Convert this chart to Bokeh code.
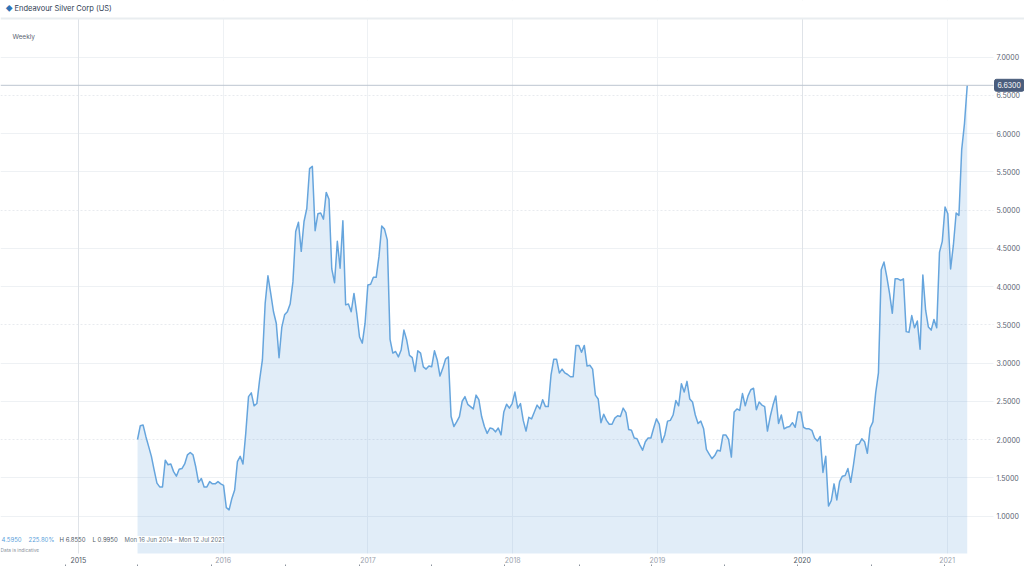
from bokeh.plotting import figure
from bokeh.models import Range1d, FixedTicker, Grid, LinearAxis, Label, BoxAnnotation, Span, NumeralTickFormatter
from bokeh.embed import file_html
from bokeh.resources import INLINE

FONT = "Inter"

title_text = "Endeavour Silver Corp (US)"
start_year = 2015.409
weeks_per_year = 52.18

prices = [
 2.00,2.18,2.19,2.04,1.91,1.78,1.60,1.43,1.38,1.38,1.73,1.67,1.68,1.58,1.52,1.61,1.62,1.68,1.80,1.83,1.80,1.64,1.44,1.49,1.38,1.38,1.45,1.42,1.42,1.45,1.42,1.40,1.11,1.08,1.23,1.34,1.71,1.78,1.68,2.08,2.56,2.61,2.44,2.47,2.78,3.04,3.78,4.14,3.91,3.67,3.52,3.07,
 3.47,3.63,3.67,3.77,4.06,4.72,4.84,4.46,4.85,5.02,5.54,5.57,4.73,4.95,4.96,4.88,5.23,5.14,4.23,4.05,4.59,4.24,4.86,3.76,3.77,3.67,3.91,3.65,3.34,3.26,3.52,4.02,4.03,4.12,4.12,4.39,4.79,4.75,4.61,3.31,3.13,3.15,3.08,3.17,3.43,3.30,3.10,3.07,2.89,3.16,3.13,2.95,2.92,2.96,2.95,3.16,3.04,2.83,
 2.93,3.05,3.08,2.30,2.17,2.23,2.30,2.50,2.56,2.46,2.43,2.40,2.58,2.52,2.30,2.17,2.08,2.15,2.14,2.10,2.15,2.06,2.36,2.46,2.41,2.47,2.62,2.41,2.47,2.25,2.11,2.29,2.27,2.36,2.45,2.40,2.52,2.43,2.43,2.84,3.05,3.05,2.87,2.92,2.87,2.85,2.82,2.82,3.23,3.23,3.14,3.23,2.96,2.97,2.92,2.58,2.53,2.22,2.33,2.25,2.20,2.20,2.28,2.31,2.30,2.41,2.35,2.13,2.12,2.02,2.01,1.93,
 1.86,1.97,2.02,2.02,2.15,2.27,2.20,1.96,2.06,2.24,2.25,2.32,2.51,2.44,2.73,2.62,2.76,2.53,2.49,2.32,2.21,2.24,2.14,1.87,1.81,1.75,1.79,1.86,1.85,2.06,2.06,2.00,1.77,2.36,2.40,2.38,2.60,2.44,2.57,2.65,2.67,2.39,2.49,2.45,2.43,2.11,2.30,2.45,2.57,2.21,2.32,2.14,2.16,2.17,2.22,2.16,2.36,2.36,2.16,2.14,2.14,2.12,2.02,1.98,2.04,1.57,1.78,1.13,1.20,1.42,1.21,1.45,
 1.52,1.53,1.62,1.44,1.67,1.93,1.94,2.01,1.97,1.82,2.15,2.23,2.61,2.87,4.22,4.32,4.13,3.91,3.65,4.10,4.10,4.08,4.10,3.41,3.40,3.62,3.46,3.55,3.18,4.15,3.69,3.47,3.43,3.57,3.46,4.45,4.59,5.04,4.95,4.23,4.54,4.96,4.93,5.79,6.13,6.63,
]
year_ticks = [2015, 2016, 2017, 2018, 2019, 2020, 2021]
strong_years = [2015, 2020]
light_years = [2016, 2017, 2018, 2019, 2021]
nav_ticks = [2014.91, 2015.41, 2015.92, 2016.43, 2016.94, 2017.44, 2017.94, 2018.46, 2018.96, 2019.46, 2019.97, 2020.48, 2020.98]
price_ticks = [1.0, 1.5, 2.0, 2.5, 3.0, 3.5, 4.0, 4.5, 5.0, 5.5, 6.0, 6.5, 7.0]
dotted_ticks = [2.0, 3.5, 5.0, 6.5]
solid_ticks = [t for t in price_ticks if t not in dotted_ticks]
last_price = 6.63
last_price_text = "6.6300"
weeks = list(range(len(prices)))
years = [start_year + w / weeks_per_year for w in weeks]

# scales: px per year, px per price unit; the whole canvas is the frame
W, H = 1024, 566
PX_YEAR = 144.8
PX_UNIT = 76.5
BASE_PX = 515.5
X0 = 2015 - 77.8 / PX_YEAR
X_END = X0 + W / PX_YEAR
Y_TOP = 1 + BASE_PX / PX_UNIT
Y_BOTTOM = 1 - (H - BASE_PX) / PX_UNIT
PLOT_RIGHT = X0 + 993 / PX_YEAR      # right edge of plotting area
PLOT_TOP = 1 + (BASE_PX - 18) / PX_UNIT
PLOT_BASE = 1 - (553 - BASE_PX) / PX_UNIT

p = figure(width=W, height=H, output_backend="svg", toolbar_location=None,
           x_range=Range1d(X0, X_END), y_range=Range1d(Y_BOTTOM, Y_TOP),
           x_axis_location=None, y_axis_location=None,
           min_border_left=0, min_border_right=0, min_border_top=0, min_border_bottom=0,
           outline_line_color=None, background_fill_color="white", border_fill_color="white")
p.styles = {"position": "absolute", "left": "0px", "top": "0px"}
p.grid.visible = False

for ticks, color, dash in [(solid_ticks, "#eef1f4", "solid"), (dotted_ticks, "#e8ebef", "2 2")]:
    p.add_layout(Grid(dimension=1, ticker=FixedTicker(ticks=ticks), grid_line_color=color,
                      grid_line_dash=dash, grid_line_width=1, level="underlay"))
p.add_layout(Grid(dimension=0, ticker=FixedTicker(ticks=light_years), grid_line_color="#eef1f4",
                  grid_line_width=1, level="underlay"))
p.add_layout(Grid(dimension=0, ticker=FixedTicker(ticks=strong_years), grid_line_color="#dfe3e8",
                  grid_line_width=1, level="underlay"))
# masks: grid lines stop at the plotting area
for kw in [dict(left=PLOT_RIGHT), dict(top=PLOT_BASE), dict(bottom=PLOT_TOP)]:
    p.add_layout(BoxAnnotation(fill_color="white", fill_alpha=1, line_color=None, level="underlay", **kw))

p.varea(x=years, y1=[PLOT_BASE] * len(years), y2=prices, fill_color="#4d94d6", fill_alpha=0.17)
p.line(x=years, y=prices, line_color="#66a5dd", line_width=1.5, line_join="round")

p.line(x=[X0, PLOT_RIGHT], y=[last_price, last_price], line_color="#bcc5d0", line_width=1)
p.add_layout(Span(location=PLOT_TOP, dimension="width", line_color="#e9edf0", line_width=2))

yaxis = LinearAxis(ticker=FixedTicker(ticks=price_ticks), fixed_location=PLOT_RIGHT, axis_line_color=None,
                   major_tick_line_color=None, minor_tick_line_color=None,
                   major_tick_out=0, major_tick_in=0, minor_tick_out=0, minor_tick_in=0,
                   major_label_text_font=FONT, major_label_text_font_size="7px",
                   major_label_text_color="#5a6472", major_label_standoff=3,
                   formatter=NumeralTickFormatter(format="0.0000"))
p.add_layout(yaxis, "right")

xaxis = LinearAxis(ticker=FixedTicker(ticks=year_ticks), fixed_location=PLOT_BASE, axis_line_color=None,
                   major_tick_line_color=None, minor_tick_line_color=None,
                   major_tick_out=0, major_tick_in=0, minor_tick_out=0, minor_tick_in=0,
                   major_label_text_font=FONT, major_label_text_font_size="7px",
                   major_label_text_color="#9aa2ad", major_label_standoff=2,
                   major_label_overrides={2015: " ", 2020: " "},
                   formatter=NumeralTickFormatter(format="0"))
p.add_layout(xaxis, "below")

nav_axis = LinearAxis(ticker=FixedTicker(ticks=nav_ticks), fixed_location=Y_BOTTOM, axis_line_color=None,
                      major_tick_line_color="#8a929c", minor_tick_line_color=None,
                      major_tick_out=0, major_tick_in=2, minor_tick_out=0, minor_tick_in=0,
                      major_label_text_color=None, major_label_text_font_size="1px")
p.add_layout(nav_axis, "below")


def label(text, x, y_px, color, size="6px", **kw):
    p.add_layout(Label(x=x, y=H - y_px, x_units="screen", y_units="screen", text=text,
                       text_font=FONT, text_font_size=size, text_color=color,
                       text_baseline="middle", **kw))


for yr in strong_years:
    p.add_layout(Label(x=yr, y=H - 559, x_units="data", y_units="screen", text=str(yr),
                       text_font=FONT, text_font_size="7px", text_color="#4f5966",
                       text_align="center", text_baseline="middle"))

label("\u25c6", 5, 8, "#2f72b5", size="7px")
label(title_text, 14, 8, "#2e3b52", size="7.5px")
label("Weekly", 12, 36, "#5a6472", size="6.5px")
label("4.5950", 1, 539, "#5b9fdb")
label("225.80%", 28, 539, "#5b9fdb")
label("H 6.8550", 59, 539, "#4f5966")
label("L 0.9950", 92, 539, "#4f5966")
label("Mon 16 Jun 2014 - Mon 12 Jul 2021", 124, 539, "#6b7480",
      background_fill_color="white", background_fill_alpha=0.9)
label("Data is indicative", 0, 549, "#8a929c", size="4.8px")
p.add_layout(Label(x=994, y=last_price, x_units="screen", y_units="data", text=last_price_text,
                   text_font=FONT, text_font_size="7px", text_color="white", text_baseline="middle",
                   background_fill_color="#4a5d7c", border_line_color="#4a5d7c", padding=3,
                   border_radius=2))

open("out.html", "w").write(file_html(p, INLINE))
